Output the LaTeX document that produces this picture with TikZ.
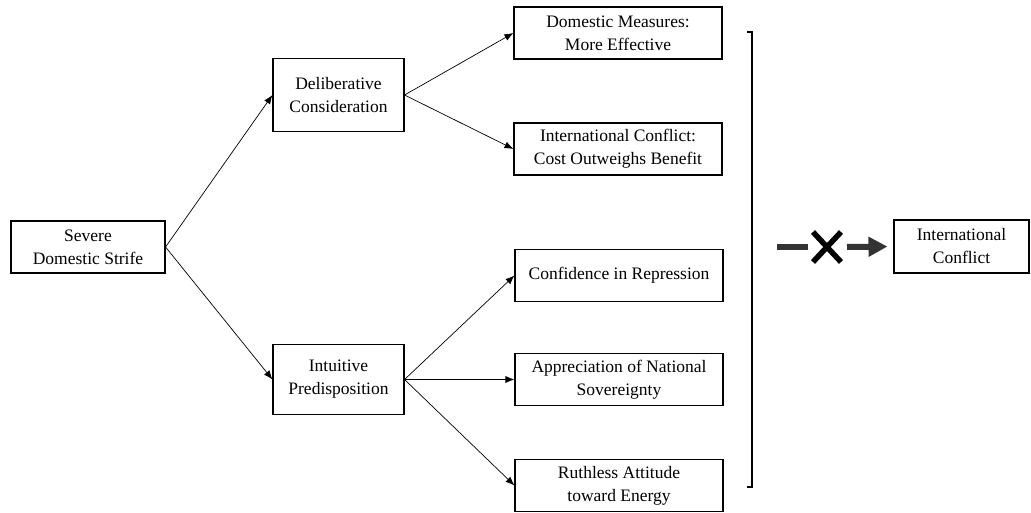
\documentclass[tikz,border=0pt]{standalone}
\usepackage{fontspec}
\setmainfont{Liberation Serif}
\usetikzlibrary{arrows.meta}
\tikzset{
  box/.style={draw,line width=1.1pt,align=center,inner sep=0pt,font=\fontsize{17.5}{23}\selectfont},
  wide/.style={box,minimum width=208pt,minimum height=52pt},
  link/.style={line width=0.7pt,-{Latex[length=9pt,width=7pt]}}
}
\begin{document}
\begin{tikzpicture}[x=1pt,y=-1pt]
  \useasboundingbox (0,0) rectangle (1031,513);
  \node[box,minimum width=154pt,minimum height=52pt] (strife) at (88,247) {Severe\\Domestic Strife};
  \node[box,minimum width=131pt,minimum height=73pt] (delib) at (338.5,95) {Deliberative\\Consideration};
  \node[box,minimum width=131pt,minimum height=70pt] (intuit) at (338.5,379.5) {Intuitive\\Predisposition};
  \node[wide] (domestic) at (618,33) {Domestic Measures:\\More Effective};
  \node[wide] (cost) at (618,149) {International Conflict:\\Cost Outweighs Benefit};
  \node[wide] (confid) at (619,275.5) {Confidence in Repression};
  \node[wide] (sovereign) at (619,379.5) {Appreciation of National\\Sovereignty};
  \node[wide] (ruthless) at (619,485.5) {Ruthless Attitude\\toward Energy};
  \node[box,minimum width=135pt,minimum height=53pt] (ic) at (961.5,246.5) {International\\Conflict};
  \draw[link] (strife.east) -- (delib.west);
  \draw[link] (strife.east) -- (intuit.west);
  \draw[link] (delib.east) -- (domestic.west);
  \draw[link] (delib.east) -- (cost.west);
  \draw[link] (intuit.east) -- (confid.west);
  \draw[link] (intuit.east) -- (sovereign.west);
  \draw[link] (intuit.east) -- (ruthless.west);
  % bracket
  \draw[line width=2.6pt] (747,32) -- (752,32) -- (752,487) -- (747,487);
  % blocked arrow
  \coordinate (nx) at (827,247);
  \draw[line width=6.5pt,color=black!80] (777,247) -- (808,247);
  \draw[line width=5.5pt] (813,232) -- (841,262) (813,262) -- (841,232);
  \draw[line width=6pt,color=black!80,shorten >=6pt,-{Triangle[length=19pt,width=19pt]}] (847,247) -- (ic.west);
\end{tikzpicture}
\end{document}
